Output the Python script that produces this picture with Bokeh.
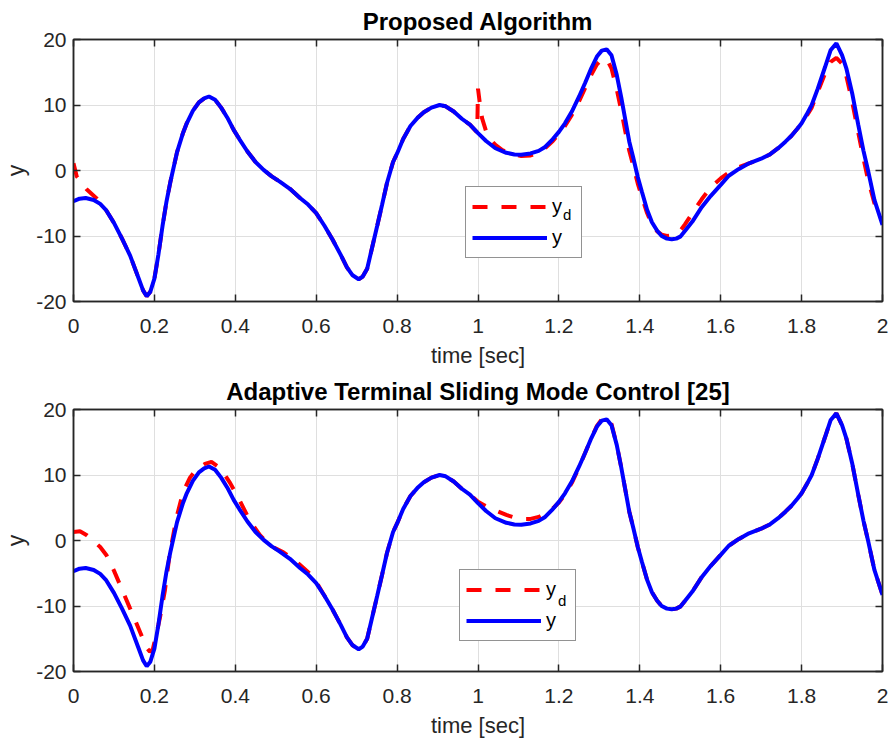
from bokeh.plotting import figure
from bokeh.layouts import column
from bokeh.models import Range1d, LinearAxis, FixedTicker, Legend, LegendItem
from bokeh.embed import file_html
from bokeh.resources import INLINE

# ---------------- data ----------------
t_y = [0, 0.015, 0.03, 0.05, 0.066, 0.08, 0.1, 0.12, 0.14, 0.16, 0.172, 0.181, 0.19, 0.2, 0.21, 0.22,
       0.23, 0.24, 0.256, 0.27, 0.28, 0.295, 0.31, 0.323, 0.335, 0.35, 0.365, 0.38, 0.396, 0.41, 0.43,
       0.45, 0.47, 0.49, 0.51, 0.535, 0.56, 0.58, 0.6, 0.62, 0.64, 0.66, 0.676, 0.69, 0.705, 0.715,
       0.726, 0.74, 0.751, 0.763, 0.775, 0.79, 0.8, 0.815, 0.833, 0.85, 0.866, 0.885, 0.905, 0.92,
       0.94, 0.96, 0.98, 1.0, 1.02, 1.043, 1.07, 1.09, 1.107, 1.13, 1.15, 1.166, 1.185, 1.2, 1.215,
       1.232, 1.25, 1.265, 1.28, 1.294, 1.306, 1.318, 1.33, 1.343, 1.354, 1.364, 1.374, 1.384, 1.395,
       1.405, 1.418, 1.43, 1.443, 1.454, 1.467, 1.479, 1.49, 1.5, 1.512, 1.53, 1.553, 1.575, 1.6, 1.62,
       1.644, 1.67, 1.7, 1.72, 1.742, 1.76, 1.775, 1.79, 1.8, 1.812, 1.825, 1.84, 1.858, 1.872, 1.886,
       1.9, 1.911, 1.925, 1.94, 1.953, 1.965, 1.98, 2.0]
y_out = [-4.7, -4.3, -4.2, -4.5, -5.1, -6.0, -8.0, -10.4, -13.0, -16.3, -18.3, -19.2, -18.5, -16.5,
         -12.8, -8.5, -4.7, -1.6, 2.8, 5.6, 7.2, 9.1, 10.4, 11.0, 11.3, 10.8, 9.6, 8.1, 6.2, 4.8, 2.9,
         1.3, 0.1, -0.9, -1.7, -2.8, -4.2, -5.2, -6.5, -8.4, -10.5, -12.8, -14.8, -16.0, -16.6, -16.2,
         -15.0, -11.3, -8.4, -5.2, -1.9, 1.3, 2.6, 4.8, 6.8, 8.0, 8.9, 9.6, 10.0, 9.8,
         9.0, 7.9, 7.0, 5.7, 4.5, 3.4, 2.7, 2.45, 2.4, 2.6, 3.0, 3.6, 4.8, 5.9, 7.2,
         9.0, 11.3, 13.4, 15.6, 17.4, 18.3, 18.5, 17.6, 14.6, 11.2, 7.8, 4.4, 1.9, -1.0,
         -3.2, -6.0, -7.9, -9.2, -10.0, -10.4, -10.5, -10.4, -10.1, -9.2, -7.8, -5.6, -3.9, -2.2, -0.8,
         0.2, 1.1, 1.8, 2.4, 3.4, 4.4, 5.3, 6.4, 7.2, 8.5, 10.0, 12.5, 15.8, 18.4, 19.4,
         17.6, 15.5, 11.8, 7.0, 3.0, -0.2, -4.5, -8.3]

t_yd_top = [0, 0.008, 0.033, 0.058, 0.075, 0.1, 0.12, 0.14, 0.16, 0.172, 0.181, 0.19, 0.2, 0.21, 0.22,
            0.23, 0.24, 0.256, 0.27, 0.28, 0.295, 0.31, 0.323, 0.335, 0.35, 0.365, 0.38, 0.396, 0.41,
            0.43, 0.45, 0.47, 0.49, 0.51, 0.535, 0.56, 0.58, 0.6, 0.62, 0.64, 0.66, 0.676, 0.69, 0.705,
            0.715, 0.726, 0.74, 0.751, 0.763, 0.775, 0.79, 0.8, 0.815, 0.833, 0.85, 0.866, 0.885, 0.905,
            0.92, 0.94, 0.96, 0.98, 0.998, 1.0, 1.005, 1.01, 1.02, 1.03, 1.043, 1.06, 1.08, 1.107, 1.13,
            1.15, 1.166, 1.185, 1.2, 1.215, 1.232, 1.25, 1.265, 1.28, 1.294, 1.306, 1.318, 1.33, 1.343,
            1.354, 1.364, 1.374, 1.384, 1.395, 1.405, 1.418, 1.43, 1.443, 1.454, 1.467, 1.479, 1.49, 1.5,
            1.512, 1.53, 1.553, 1.575, 1.6, 1.62, 1.644, 1.67, 1.7, 1.72, 1.742, 1.76, 1.775, 1.79, 1.8,
            1.812, 1.825, 1.84, 1.858, 1.872, 1.886, 1.9, 1.911, 1.925, 1.94, 1.953, 1.965, 1.98, 2.0]
yd_top = [1.1, -0.9, -2.9, -4.3, -5.5, -8.0, -10.4, -13.0, -16.3, -18.3, -19.2, -18.5, -16.5, -12.8, -8.5,
          -4.7, -1.6, 2.8, 5.6, 7.2, 9.1, 10.4, 11.0, 11.3, 10.8, 9.6, 8.1, 6.2, 4.8,
          2.9, 1.3, 0.1, -0.9, -1.7, -2.8, -4.2, -5.2, -6.5, -8.4, -10.5, -12.8, -14.8, -16.0, -16.6,
          -16.2, -15.0, -11.3, -8.4, -5.2, -1.9, 1.3, 2.6, 4.8, 6.8, 8.0, 8.9, 9.6, 10.0,
          9.8, 9.0, 7.9, 7.0, 5.8, 12.5, 10.0, 8.0, 6.0, 4.8, 3.9, 3.1, 2.6, 2.2, 2.3,
          2.8, 3.4, 4.5, 5.6, 6.8, 8.5, 10.6, 12.6, 14.6, 16.2, 17.0, 17.0, 15.6, 12.4,
          9.2, 6.0, 3.0, 0.7, -2.0, -4.0, -6.5, -8.2, -9.3, -9.8, -10.0, -9.9, -9.6, -9.2,
          -8.2, -6.5, -4.4, -2.6, -1.2, -0.3, 0.5, 1.1, 1.8, 2.4, 3.4, 4.4, 5.3, 6.4, 7.2,
          8.3, 9.6, 12.0, 14.8, 16.6, 17.2, 16.3, 14.3, 10.5, 5.8, 1.8, -1.6, -5.0, -7.8]

t_yd_bot = [0, 0.016, 0.033, 0.05, 0.066, 0.082, 0.1, 0.12, 0.14, 0.156, 0.17, 0.18, 0.189, 0.196, 0.205,
            0.214, 0.226, 0.238, 0.255, 0.271, 0.288, 0.304, 0.325, 0.341, 0.362, 0.387, 0.411, 0.436,
            0.461, 0.486, 0.519, 0.552, 0.585, 0.6, 0.62, 0.64, 0.66, 0.676, 0.69, 0.705, 0.715, 0.726,
            0.74, 0.751, 0.763, 0.775, 0.79, 0.8, 0.815, 0.833, 0.85, 0.866, 0.885, 0.905, 0.92, 0.94,
            0.96, 0.98, 1.0, 1.02, 1.043, 1.07, 1.09, 1.107, 1.13, 1.15, 1.166, 1.185, 1.2, 1.215, 1.232,
            1.25, 1.265, 1.28, 1.294, 1.306, 1.318, 1.33, 1.343, 1.354, 1.364, 1.374, 1.384, 1.395,
            1.405, 1.418, 1.43, 1.443, 1.454, 1.467, 1.479, 1.49, 1.5, 1.512, 1.53, 1.553, 1.575, 1.6,
            1.62, 1.644, 1.67, 1.7, 1.72, 1.742, 1.76, 1.775, 1.79, 1.8, 1.812, 1.825, 1.84, 1.858, 1.872,
            1.886, 1.9, 1.911, 1.925, 1.94, 1.953, 1.965, 1.98, 2.0]
yd_bot = [1.3, 1.4, 0.8, -0.1, -1.0, -2.3, -4.6, -7.5, -10.4, -12.7, -14.8, -16.3, -17.0, -16.6, -14.3,
          -11.7, -7.6, -2.0, 3.6, 7.4, 9.6, 10.9, 11.7, 12.0, 11.1, 8.8, 6.1, 3.0,
          0.8, -0.8, -1.8, -3.3, -5.1, -6.3, -8.4, -10.5, -12.8, -14.8, -16.0, -16.6, -16.2, -15.0,
          -11.3, -8.4, -5.2, -1.9, 1.3, 2.6, 4.8, 6.8, 8.0, 8.9, 9.6, 10.0, 9.8, 9.0,
          7.9, 7.0, 5.9, 5.2, 4.6, 3.9, 3.5, 3.3, 3.3, 3.6, 4.1, 4.9, 5.8, 7.0, 8.8,
          11.2, 13.4, 15.6, 17.5, 18.5, 18.8, 17.8, 14.6, 11.2, 7.8, 4.4, 1.9, -1.0,
          -3.2, -6.0, -7.9, -9.2, -10.0, -10.4, -10.5, -10.4, -10.1, -9.2, -7.8, -5.6, -3.9, -2.2,
          -0.8, 0.2, 1.1, 1.8, 2.4, 3.4, 4.4, 5.3, 6.4, 7.2, 8.5, 10.0, 12.5, 15.8, 18.4,
          19.4, 17.6, 15.5, 11.8, 7.0, 3.0, -0.2, -4.5, -8.3]

x_ticks = [0, 0.2, 0.4, 0.6, 0.8, 1.0, 1.2, 1.4, 1.6, 1.8, 2.0]
x_tick_labels = ["0", "0.2", "0.4", "0.6", "0.8", "1", "1.2", "1.4", "1.6", "1.8", "2"]
y_ticks = [-20, -10, 0, 10, 20]
y_tick_labels = ["-20", "-10", "0", "10", "20"]
titles = ["Proposed Algorithm", "Adaptive Terminal Sliding Mode Control [25]"]
x_label = "time [sec]"
y_label = "y"
legend_labels = ["y", "y"]
legend_sub = "d"

# ---------------- styling ----------------
FONT = "Liberation Sans"
AX = "#262626"
GRID = "#dfdfdf"
RED = "#ff0000"
BLUE = "#0000ff"


def make_panel(title, t_d, yd, legend_loc, sub_loc):
    p = figure(frame_width=809, frame_height=262,
               output_backend="svg", toolbar_location=None,
               x_range=Range1d(0, 2), y_range=Range1d(-20, 20),
               min_border_left=65, min_border_right=6, min_border_top=20,
               min_border_bottom=40)
    p.title.text = title
    p.title.text_font = FONT
    p.title.text_font_size = "24px"
    p.title.text_font_style = "bold"
    p.title.text_color = "#000000"
    p.title.align = "center"
    p.title.standoff = 10
    p.background_fill_color = "white"
    p.border_fill_color = "white"
    p.outline_line_color = AX
    p.outline_line_width = 1.5

    for ax in (p.xaxis[0], p.yaxis[0]):
        ax.axis_line_color = AX
        ax.axis_line_width = 1.5
        ax.major_tick_line_color = AX
        ax.major_tick_line_width = 1.5
        ax.major_tick_in = 7
        ax.major_tick_out = 0
        ax.minor_tick_line_color = None
        ax.major_label_text_font = FONT
        ax.major_label_text_font_size = "21px"
        ax.major_label_text_color = AX
        ax.axis_label_text_font = FONT
        ax.axis_label_text_font_size = "22px"
        ax.axis_label_text_font_style = "normal"
        ax.axis_label_text_color = AX

    p.xaxis[0].ticker = FixedTicker(ticks=x_ticks)
    p.xaxis[0].major_label_overrides = dict(zip(x_ticks, x_tick_labels))
    p.xaxis[0].axis_label = x_label
    p.xaxis[0].major_label_standoff = 17
    p.xaxis[0].axis_label_standoff = 7
    p.yaxis[0].ticker = FixedTicker(ticks=y_ticks)
    p.yaxis[0].major_label_overrides = dict(zip(y_ticks, y_tick_labels))
    p.yaxis[0].axis_label = y_label
    p.yaxis[0].axis_label_text_font_size = "23px"
    p.yaxis[0].major_label_standoff = 7
    p.yaxis[0].axis_label_standoff = 4

    # mirrored tick marks on top and right (box on)
    top = LinearAxis(ticker=FixedTicker(ticks=x_ticks),
                     major_label_overrides={t: "" for t in x_ticks})
    right = LinearAxis(ticker=FixedTicker(ticks=y_ticks),
                       major_label_overrides={t: "" for t in y_ticks})
    for ax in (top, right):
        ax.axis_line_color = AX
        ax.axis_line_width = 1.5
        ax.major_tick_line_color = AX
        ax.major_tick_line_width = 1.5
        ax.major_tick_in = 7
        ax.major_tick_out = 0
        ax.minor_tick_line_color = None
        ax.major_label_text_font_size = "0px"
        ax.major_label_standoff = 0
    p.add_layout(top, "above")
    p.add_layout(right, "right")

    p.xgrid.ticker = FixedTicker(ticks=x_ticks)
    p.ygrid.ticker = FixedTicker(ticks=y_ticks)
    for g in (p.xgrid[0], p.ygrid[0]):
        g.grid_line_color = GRID
        g.grid_line_width = 1

    r_d = p.line(t_d, yd, line_color=RED, line_width=4, line_dash="15 14")
    r_y = p.line(t_y, y_out, line_color=BLUE, line_width=4)
    r_none = p.line([], [], line_alpha=0)  # carrier for the subscript legend entry

    leg = Legend(items=[LegendItem(label=legend_labels[0], renderers=[r_d]),
                        LegendItem(label=legend_labels[1], renderers=[r_y])],
                 location=legend_loc)
    leg.glyph_width = 75
    leg.glyph_height = 27
    leg.label_height = 27
    leg.label_width = 23
    leg.label_standoff = 5
    leg.spacing = 4
    leg.padding = 6
    leg.margin = 0
    leg.label_text_font = FONT
    leg.label_text_font_size = "20px"
    leg.label_text_color = "#000000"
    leg.border_line_color = AX
    leg.border_line_width = 1
    leg.background_fill_color = "white"
    leg.background_fill_alpha = 1
    p.add_layout(leg, "center")

    # subscript "d" of y_d, drawn as a second, frameless legend on top of the first
    sub = Legend(items=[LegendItem(label=legend_sub, renderers=[r_none])],
                 location=sub_loc)
    sub.glyph_width = 1
    sub.glyph_height = 16
    sub.label_height = 16
    sub.label_width = 8
    sub.label_standoff = 0
    sub.padding = 0
    sub.margin = 0
    sub.label_text_font = FONT
    sub.label_text_font_size = "15px"
    sub.label_text_color = "#000000"
    sub.border_line_color = None
    sub.background_fill_alpha = 0
    p.add_layout(sub, "center")
    return p


p1 = make_panel(titles[0], t_yd_top, yd_top, (392, 43), (489, 78))
p2 = make_panel(titles[1], t_yd_bot, yd_bot, (386, 30), (484, 62))

layout = column(p1, p2, spacing=0)
open("out.html", "w").write(file_html(layout, INLINE))
